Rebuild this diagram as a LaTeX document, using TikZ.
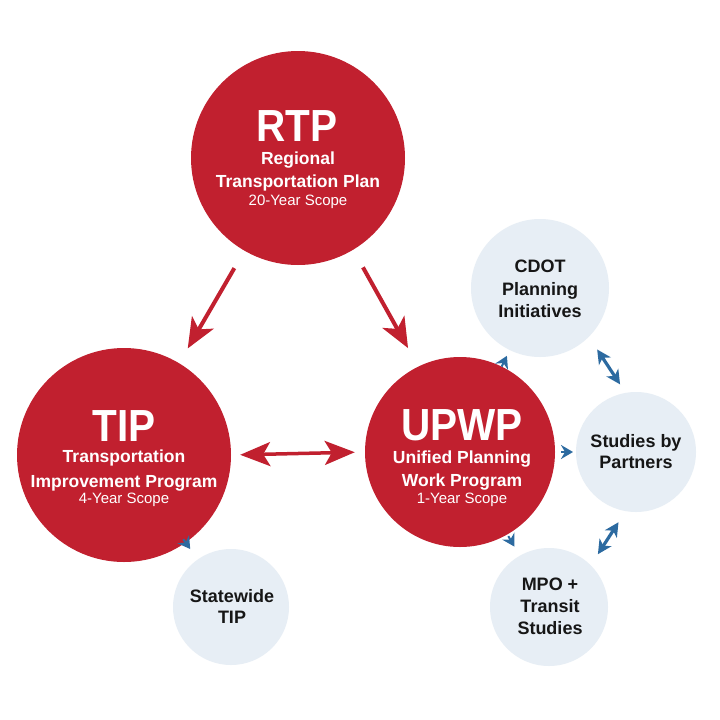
\documentclass[tikz,border=0pt]{standalone}
\usepackage{fontspec}
\setmainfont{Liberation Sans}
\newfontfamily\titlef[FakeStretch=0.9]{Liberation Sans}
\usetikzlibrary{arrows.meta,calc}
\definecolor{cred}{HTML}{C1202F}
\definecolor{clight}{HTML}{E7EEF5}
\definecolor{cblue}{HTML}{2C6AA0}
\definecolor{ctext}{HTML}{161616}
\begin{document}
\begin{tikzpicture}[x=1pt,y=-1pt,
  redc/.style={circle,fill=cred,inner sep=0pt},
  lightc/.style={circle,fill=clight,inner sep=0pt},
  ttl/.style={anchor=base,text=white,inner sep=0pt,font=\titlef\bfseries\fontsize{45}{45}\selectfont},
  subt/.style={anchor=base,text=white,inner sep=0pt,font=\bfseries\fontsize{17.5}{20}\selectfont},
  yrs/.style={anchor=base,text=white,inner sep=0pt,font=\fontsize{15}{18}\selectfont},
  lbl/.style={anchor=base,text=ctext,inner sep=0pt,font=\bfseries\fontsize{18}{20}\selectfont},
  redarr/.style={draw=cred,line width=4pt,-{Stealth[length=30pt,width=25pt,inset=8pt]}},
  redboth/.style={draw=cred,line width=3.5pt,{Stealth[length=30pt,width=24pt,inset=7pt]}-{Stealth[length=30pt,width=24pt,inset=7pt]}},
  blueboth/.style={draw=cblue,line width=3.2pt,{Stealth[length=14pt,width=14pt,inset=4pt]}-{Stealth[length=14pt,width=14pt,inset=4pt]}},
  bluetip/.style={draw=cblue,line width=2pt,-{Stealth[length=12pt,width=14pt,inset=4pt]}}
]
\useasboundingbox (0,0) rectangle (720,720);
\fill[white] (0,0) rectangle (720,720);

% circles
\node[redc,minimum size=214pt] (rtp) at (298,158) {};
\node[redc,minimum size=214pt] (tip) at (124,455) {};
\node[redc,minimum size=190pt] (upwp) at (460,452) {};
\node[lightc,minimum size=138pt] (cdot) at (540,288) {};
\node[lightc,minimum size=120pt] (studies) at (636,452) {};
\node[lightc,minimum size=118pt] (mpo) at (549,607) {};
\node[lightc,minimum size=116pt] (swtip) at (231,607) {};

% red connectors
\draw[redarr,shorten <=20pt,shorten >=17pt] (rtp.-120.8) -- (tip.59.5);
\draw[redarr,shorten <=20pt,shorten >=21pt] (rtp.-59.2) -- (upwp.116.6);
\draw[redboth,shorten <=9pt,shorten >=10pt] (tip.0) -- (upwp.180);

% blue connectors
\draw[blueboth,shorten <=15pt,shorten >=10pt] (cdot.-45) -- (studies.100.5);
\draw[blueboth,shorten <=13pt,shorten >=13pt] (studies.-100) -- (mpo.45.6);

% blue tips
\draw[bluetip] ($(upwp)!95pt!(cdot)$) -- ($(upwp)!107pt!(cdot)$);
\draw[bluetip] ($(upwp)!101pt!(studies)$) -- ($(upwp)!113pt!(studies)$);
\draw[bluetip] ($(upwp)!97pt!(mpo)$) -- ($(upwp)!109pt!(mpo)$);
\draw[bluetip] ($(tip)!103pt!(swtip)$) -- ($(tip)!115pt!(swtip)$);

% RTP text
\node[ttl] (rtpT) at (297,141) {RTP};
\node[subt] (rtpA) at (298,164) {Regional};
\node[subt] (rtpB) at (298,187) {Transportation Plan};
\node[yrs] (rtpC) at (298,205) {20-Year Scope};

% TIP text
\node[ttl] (tipT) at (124,441) {TIP};
\node[subt] (tipA) at (124,462) {Transportation};
\node[subt] (tipB) at (124,487) {Improvement Program};
\node[yrs] (tipC) at (124,503) {4-Year Scope};

% UPWP text
\node[ttl] (upwpT) at (462,440) {UPWP};
\node[subt] (upwpA) at (462,463) {Unified Planning};
\node[subt] (upwpB) at (462,486) {Work Program};
\node[yrs] (upwpC) at (462,503) {1-Year Scope};

% light circle texts
\node[lbl] (cdotA) at (540,272) {CDOT};
\node[lbl] (cdotB) at (540,295) {Planning};
\node[lbl] (cdotC) at (540,317) {Initiatives};
\node[lbl] (studA) at (636,447) {Studies by};
\node[lbl] (studB) at (636,468) {Partners};
\node[lbl] (mpoA) at (550,590) {MPO +};
\node[lbl] (mpoB) at (550,612) {Transit};
\node[lbl] (mpoC) at (550,634) {Studies};
\node[lbl] (swA) at (232,602) {Statewide};
\node[lbl] (swB) at (232,623) {TIP};
\end{tikzpicture}
\end{document}
